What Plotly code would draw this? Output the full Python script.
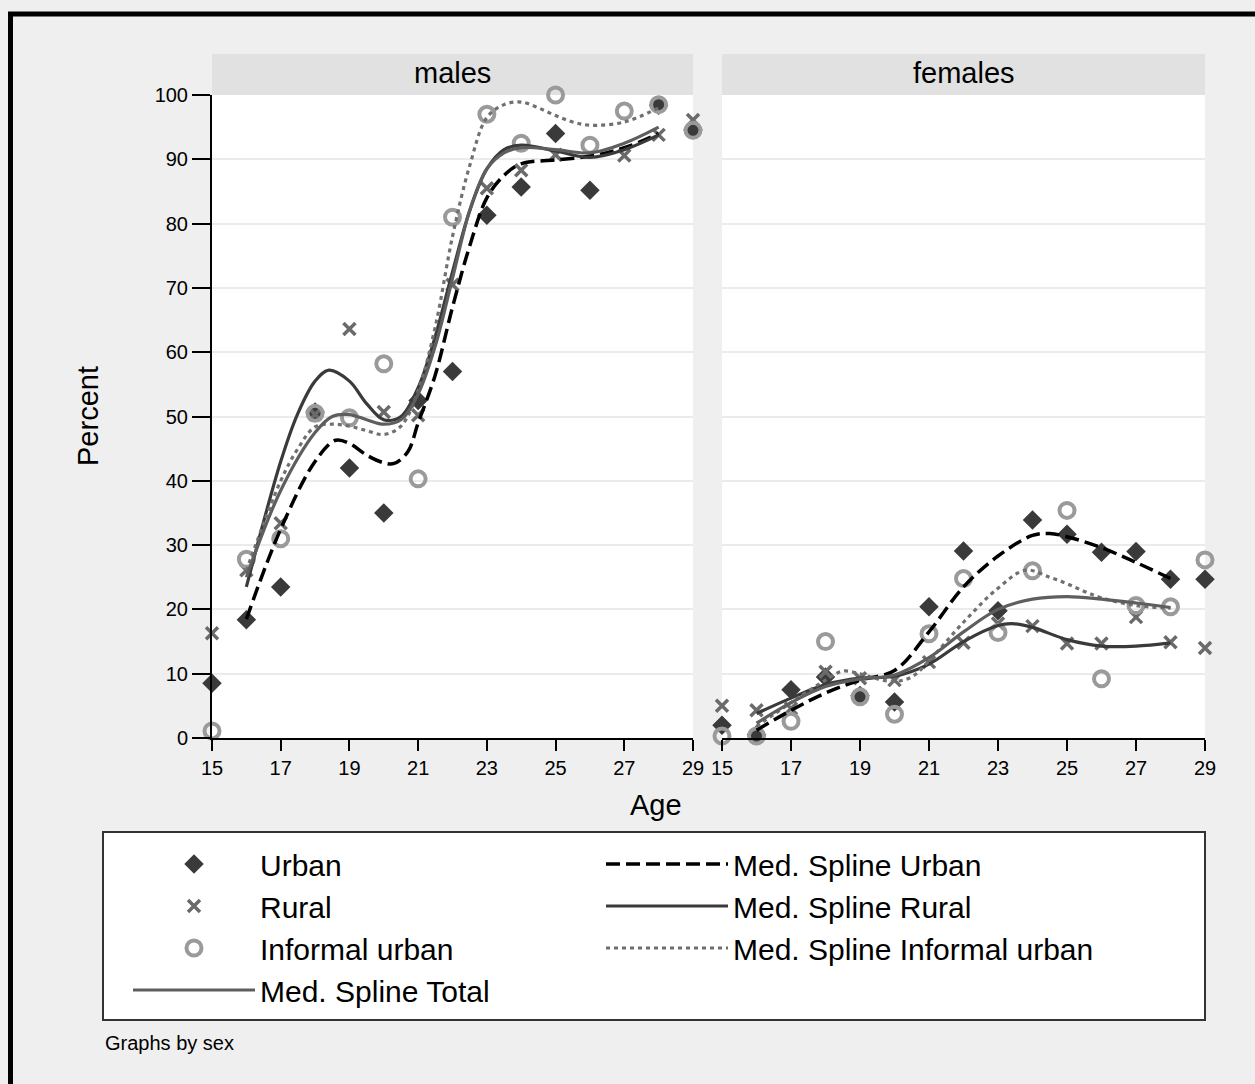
import plotly.graph_objects as go

# ---------------- data ----------------
ages = list(range(15, 30))
tick_ages = [15, 17, 19, 21, 23, 25, 27, 29]
y_ticks = [0, 10, 20, 30, 40, 50, 60, 70, 80, 90, 100]

# scatter points (percent)
m_urban = [8.5, 18.4, 23.5, 50.7, 42.0, 35.0, 52.5, 57.0, 81.3, 85.7, 94.0, 85.2, None, 98.4, 94.6]
m_rural = [16.3, 26.1, 33.4, 50.3, 63.6, 50.7, 50.2, 70.5, 85.5, 88.3, 90.7, None, 90.6, 93.8, 96.1]
m_inf = [1.1, 27.8, 31.0, 50.5, 49.8, 58.2, 40.3, 81.0, 97.0, 92.5, 100.0, 92.2, 97.5, 98.5, 94.5]

f_urban = [2.0, 0.5, 7.5, 9.5, 6.6, 5.6, 20.4, 29.1, 19.8, 33.9, 31.7, 28.9, 29.0, 24.7, 24.7]
f_rural = [5.0, 4.3, 4.6, 10.3, 9.3, 9.0, 11.8, 14.8, 17.8, 17.4, 14.7, 14.7, 18.8, 14.9, 14.0]
f_inf = [0.3, 0.3, 2.6, 15.0, 6.4, 3.7, 16.2, 24.8, 16.4, 26.0, 35.4, 9.2, 20.6, 20.4, 27.7]

# median splines
m_spl_urban_x = [16, 17, 18, 18.6, 19, 19.5, 20, 20.3, 20.7, 21, 21.5, 22, 22.5, 23, 23.5, 24, 25, 26, 27, 28]
m_spl_urban_y = [18.5, 32.5, 43.0, 46.3, 45.8, 44.0, 42.8, 42.7, 44.5, 49.0, 56.5, 67.0, 76.5, 84.0, 87.5, 89.3, 89.9, 90.5, 91.8, 94.0]
m_spl_rural_x = [16, 17, 17.5, 18, 18.4, 19, 19.5, 20, 20.5, 21, 21.5, 22, 22.5, 23, 23.5, 24, 25, 26, 27, 28]
m_spl_rural_y = [23.5, 43.0, 50.5, 55.5, 57.2, 55.5, 52.0, 49.5, 50.0, 54.5, 62.5, 72.5, 82.0, 88.5, 91.5, 92.2, 91.3, 90.3, 91.5, 93.8]
m_spl_inf_x = [16, 17, 17.5, 18, 18.5, 19, 19.5, 20, 20.5, 21, 21.5, 22, 22.5, 23, 23.5, 24, 24.5, 25, 25.5, 26, 27, 28]
m_spl_inf_y = [26.0, 40.0, 45.0, 48.4, 48.8, 48.5, 47.8, 47.2, 48.5, 54.0, 64.0, 78.0, 89.0, 96.5, 98.5, 98.9, 98.0, 96.8, 95.8, 95.3, 95.8, 98.0]
m_spl_tot_x = [16, 17, 18, 18.5, 19, 19.5, 20, 20.5, 21, 21.5, 22, 22.5, 23, 23.5, 24, 25, 26, 27, 28]
m_spl_tot_y = [25.0, 38.5, 47.5, 50.0, 50.3, 49.5, 48.8, 49.5, 53.5, 61.0, 71.5, 82.0, 88.5, 91.0, 91.8, 91.5, 91.0, 92.5, 95.0]

f_spl_urban_x = [16, 17, 18, 19, 20, 21, 22, 23, 24, 24.5, 25, 26, 27, 28]
f_spl_urban_y = [1.2, 4.3, 7.0, 9.0, 10.5, 16.5, 23.5, 28.3, 31.5, 31.8, 31.3, 29.6, 27.3, 24.8]
f_spl_rural_x = [16, 17, 18, 19, 20, 21, 22, 23, 23.4, 24, 25, 26, 27, 28]
f_spl_rural_y = [3.8, 6.2, 8.3, 9.3, 9.6, 11.5, 15.0, 17.5, 17.8, 17.2, 15.3, 14.3, 14.3, 14.8]
f_spl_inf_x = [16, 17, 18, 18.5, 19, 19.5, 20, 20.5, 21, 22, 23, 23.8, 24.5, 25, 25.5, 26, 27, 28]
f_spl_inf_y = [1.8, 5.5, 9.0, 10.4, 10.0, 9.2, 8.8, 9.5, 12.0, 18.0, 23.3, 26.1, 25.0, 24.0, 22.8, 21.8, 20.6, 20.2]
f_spl_tot_x = [16, 17, 18, 19, 20, 21, 22, 23, 24, 25, 26, 27, 28]
f_spl_tot_y = [2.3, 5.5, 8.0, 9.2, 9.8, 12.5, 16.5, 20.0, 21.6, 22.0, 21.6, 21.0, 20.3]

panels = ["males", "females"]
# legend layout: left column and right column
legend_left = ["Urban", "Rural", "Informal urban", "Med. Spline Total"]
legend_right = ["Med. Spline Urban", "Med. Spline Rural", "Med. Spline Informal urban"]

# ---------------- geometry helpers (pixels -> paper) ----------------
W, H = 1255, 1084
L, R, T, B = 212, 1205, 95, 738
PW, PH = R - L, B - T


def px(x):
    return (x - L) / PW


def py(y):
    return (B - y) / PH


FONT = "Liberation Sans, Arial, sans-serif"

fig = go.Figure()

marker_specs = [
    ("Urban", dict(symbol="diamond", size=15, color="#3a3a3a", line=dict(width=0))),
    ("Rural", dict(symbol="x-thin", size=12, color="#6a6a6a", line=dict(width=3.5, color="#6a6a6a"))),
    ("Informal urban", dict(symbol="circle-open", size=15, color="#9a9a9a", line=dict(width=4, color="#9a9a9a"))),
]
line_specs = [
    ("Med. Spline Urban", dict(color="black", width=3.5, dash="14px,6px")),
    ("Med. Spline Rural", dict(color="#3a3a3a", width=3.2)),
    ("Med. Spline Informal urban", dict(color="#707070", width=3.2, dash="4px,4px")),
    ("Med. Spline Total", dict(color="#5e5e5e", width=3.2)),
]

points = {
    "males": {"Urban": m_urban, "Rural": m_rural, "Informal urban": m_inf},
    "females": {"Urban": f_urban, "Rural": f_rural, "Informal urban": f_inf},
}
splines = {
    "males": {
        "Med. Spline Urban": (m_spl_urban_x, m_spl_urban_y),
        "Med. Spline Rural": (m_spl_rural_x, m_spl_rural_y),
        "Med. Spline Informal urban": (m_spl_inf_x, m_spl_inf_y),
        "Med. Spline Total": (m_spl_tot_x, m_spl_tot_y),
    },
    "females": {
        "Med. Spline Urban": (f_spl_urban_x, f_spl_urban_y),
        "Med. Spline Rural": (f_spl_rural_x, f_spl_rural_y),
        "Med. Spline Informal urban": (f_spl_inf_x, f_spl_inf_y),
        "Med. Spline Total": (f_spl_tot_x, f_spl_tot_y),
    },
}


def legend_of(name):
    if name in legend_left:
        return "legend", legend_left.index(name) + 1
    return "legend2", legend_right.index(name) + 1


for i, panel in enumerate(panels):
    xa = "x" if i == 0 else "x2"
    ya = "y" if i == 0 else "y2"
    for name, mk in marker_specs:
        lg, rank = legend_of(name)
        fig.add_trace(go.Scatter(
            x=ages, y=points[panel][name], mode="markers", name=name,
            marker=mk, xaxis=xa, yaxis=ya, cliponaxis=False,
            legendgroup=name, showlegend=(i == 0), legend=lg, legendrank=rank,
        ))
for i, panel in enumerate(panels):
    xa = "x" if i == 0 else "x2"
    ya = "y" if i == 0 else "y2"
    for name, ln in line_specs:
        sx, sy = splines[panel][name]
        lg, rank = legend_of(name)
        fig.add_trace(go.Scatter(
            x=sx, y=sy, mode="lines", name=name,
            line=dict(shape="spline", smoothing=1.0, **ln),
            xaxis=xa, yaxis=ya, legendgroup=name, showlegend=(i == 0),
            legend=lg, legendrank=rank,
        ))

axis_common = dict(range=[15, 29], tickvals=tick_ages, ticks="outside", ticklen=11,
                   tickwidth=2, tickcolor="black", showline=True, linecolor="black",
                   linewidth=2, showgrid=False, zeroline=False,
                   tickfont=dict(family=FONT, size=20, color="black"))
d_gap_l = px(693)
d_gap_r = px(722)

shapes = [
    # strips
    dict(type="rect", xref="paper", yref="paper", x0=0, x1=d_gap_l, y0=1, y1=py(54),
         fillcolor="#e1e1e1", line=dict(width=0), layer="below"),
    dict(type="rect", xref="paper", yref="paper", x0=d_gap_r, x1=1, y0=1, y1=py(54),
         fillcolor="#e1e1e1", line=dict(width=0), layer="below"),
    # legend box
    dict(type="rect", xref="paper", yref="paper", x0=px(103), x1=px(1205), y0=py(1020), y1=py(832),
         fillcolor="white", line=dict(color="#333333", width=2), layer="above"),
    # outer frame (top and left)
    dict(type="line", xref="paper", yref="paper", x0=px(8), x1=px(1260), y0=py(14), y1=py(14),
         line=dict(color="black", width=5)),
    dict(type="line", xref="paper", yref="paper", x0=px(10.5), x1=px(10.5), y0=py(12), y1=py(1090),
         line=dict(color="black", width=5)),
]

annotations = [
    dict(text="males", x=px(452.5), y=py(73), xref="paper", yref="paper", showarrow=False,
         xanchor="center", yanchor="middle", font=dict(family=FONT, size=29, color="black")),
    dict(text="females", x=px(963.5), y=py(73), xref="paper", yref="paper", showarrow=False,
         xanchor="center", yanchor="middle", font=dict(family=FONT, size=29, color="black")),
    dict(text="Age", x=px(656), y=py(805), xref="paper", yref="paper", showarrow=False,
         xanchor="center", yanchor="middle", font=dict(family=FONT, size=29, color="black")),
    dict(text="Percent", x=px(88), y=py(416), xref="paper", yref="paper", showarrow=False,
         textangle=-90, xanchor="center", yanchor="middle",
         font=dict(family=FONT, size=29, color="black")),
    dict(text="Graphs by sex", x=px(103), y=py(1043), xref="paper", yref="paper", showarrow=False,
         xanchor="left", yanchor="middle", font=dict(family=FONT, size=20, color="black")),
]

legend_common = dict(orientation="v", xanchor="left", yanchor="top",
                     bgcolor="rgba(0,0,0,0)", borderwidth=0, itemwidth=122,
                     traceorder="normal", tracegroupgap=0,
                     font=dict(family=FONT, size=30, color="black"))

fig.update_layout(
    width=W, height=H,
    margin=dict(l=L, r=W - R, t=T, b=H - B, pad=0),
    paper_bgcolor="#efefef", plot_bgcolor="white",
    font=dict(family=FONT, color="black"),
    xaxis=dict(domain=[0, d_gap_l], anchor="y", **axis_common),
    xaxis2=dict(domain=[d_gap_r, 1], anchor="y2", **axis_common),
    yaxis=dict(domain=[0, 1], range=[0, 100], tickvals=y_ticks, ticks="outside", ticklen=18,
               tickwidth=2, tickcolor="black", showline=True, linecolor="black", linewidth=2,
               showgrid=True, gridcolor="#ebebeb", gridwidth=2, zeroline=False, anchor="x",
               tickfont=dict(family=FONT, size=20, color="black")),
    yaxis2=dict(domain=[0, 1], range=[0, 100], tickvals=y_ticks, ticks="", showticklabels=False,
                showline=False, showgrid=True, gridcolor="#ebebeb", gridwidth=2, zeroline=False,
                anchor="x2"),
    showlegend=True,
    legend=dict(x=px(128), y=py(838), **legend_common),
    legend2=dict(x=px(601), y=py(838), **legend_common),
    shapes=shapes,
    annotations=annotations,
)

fig.write_html("out.html", config={"displayModeBar": False},
               post_script="document.body.style.margin='0';")
